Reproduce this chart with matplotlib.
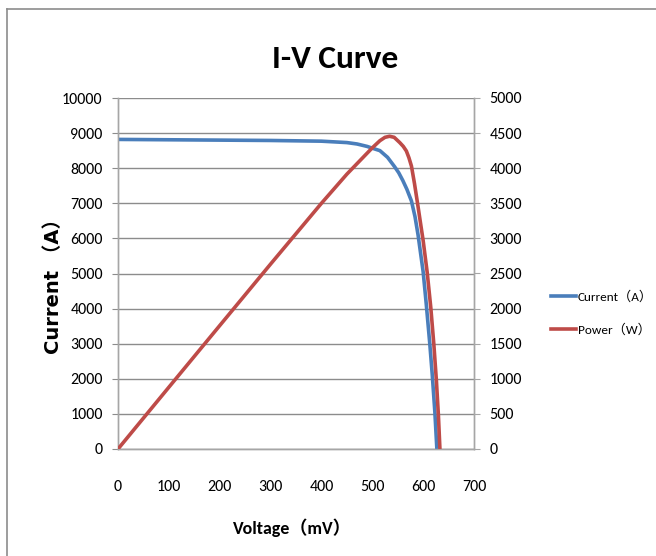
import matplotlib
matplotlib.use("Agg")
import matplotlib.pyplot as plt
from matplotlib.lines import Line2D

# ---- data ----
voltage_i = [0, 100, 200, 300, 400, 450, 470, 490, 500, 515, 530, 544, 552,
             560, 568, 577, 584, 590, 600, 606, 613, 618, 623, 627]
current = [8820, 8810, 8800, 8790, 8770, 8730, 8690, 8620, 8570, 8500, 8310,
           8040, 7870, 7650, 7400, 7066, 6620, 6100, 5051, 4150, 3011, 2100,
           1063, 0]

voltage_p = [0, 100, 200, 300, 400, 450, 480, 500, 515, 525, 534, 543, 554,
             561, 567, 572, 577, 583, 589, 595, 600, 608, 615, 621, 626, 630,
             633]
power = [0, 880, 1758, 2634, 3500, 3915, 4140, 4290, 4392, 4440, 4455, 4440,
         4365, 4310, 4245, 4150, 4030, 3780, 3500, 3210, 2970, 2514, 2017,
         1494, 980, 480, 0]

x_ticks = [0, 100, 200, 300, 400, 500, 600, 700]
left_ticks = list(range(0, 10001, 1000))
right_ticks = list(range(0, 5001, 500))

BLUE = "#4a7ebb"
RED = "#be4b48"
GRID = "#8c8c8c"
CAL = ["Carlito", "Noto Sans CJK SC", "DejaVu Sans"]

fig = plt.figure(figsize=(6.56, 5.56), dpi=100)
ax = fig.add_axes([118/656, 1-449/556, (474-118)/656, (449-98)/556])
ax2 = ax.twinx()

ax.plot(voltage_i, current, color=BLUE, lw=2.6, solid_joinstyle="round",
        solid_capstyle="butt", zorder=3)
ax2.plot(voltage_p, power, color=RED, lw=2.6, solid_joinstyle="round",
         solid_capstyle="butt", zorder=3)

ax.set_xlim(0, 700)
ax.set_ylim(0, 10000)
ax2.set_ylim(0, 5000)
ax.set_xticks(x_ticks)
ax.set_yticks(left_ticks)
ax2.set_yticks(right_ticks)

ax.grid(axis="y", color=GRID, lw=1.0)
ax.set_axisbelow(True)
ax.spines["top"].set_visible(False)
ax2.spines["top"].set_visible(False)
for a in (ax, ax2):
    for s in ["left", "right", "bottom"]:
        a.spines[s].set_color("#a6a6a6")
        a.spines[s].set_linewidth(1.0)

ax.tick_params(axis="x", length=0, pad=22, labelsize=11.5)
ax.tick_params(axis="y", length=4, color=GRID, pad=7, labelsize=11.5)
ax2.tick_params(axis="y", length=4, color="#a6a6a6", pad=7, labelsize=11.5)
for lab in ax.get_xticklabels() + ax.get_yticklabels() + ax2.get_yticklabels():
    lab.set_family(CAL)

fig.text(335/656, 1-68/556, "I-V Curve", family=CAL, fontsize=24,
         fontweight="bold", ha="center", va="baseline")

ax.set_xlabel("Voltage（mV）", family=CAL, fontsize=13, fontweight="bold")
ax.xaxis.set_label_coords((292-118)/356, -(528-449)/351)
ax.xaxis.label.set_va("center")

ax.set_ylabel("Current （A）", family=["DejaVu Sans", "Noto Sans CJK SC"],
              fontsize=14, fontweight="bold")
ylab = ax.yaxis.label
ylab.set_rotation_mode("default")
ylab.set_ha("center")
ylab.set_va("center")
ax.yaxis.set_label_coords((54-118)/356, (449-282)/351)

handles = [Line2D([], [], color=BLUE, lw=2.6), Line2D([], [], color=RED, lw=2.6)]
leg = fig.legend(handles, ["Current（A）", "Power（W）"],
                 loc="center left", bbox_to_anchor=(551/656, 1-313/556),
                 frameon=False, handlelength=1.9, handletextpad=0.15,
                 labelspacing=1.5, borderaxespad=0, borderpad=0,
                 prop={"family": CAL, "size": 9.5})

# outer border lines (top and left)
fig.add_artist(Line2D([7/656, 1], [1-9/556, 1-9/556], color="#8c8c8c", lw=1.2,
                      transform=fig.transFigure))
fig.add_artist(Line2D([7/656, 7/656], [0, 1-9/556], color="#8c8c8c", lw=1.2,
                      transform=fig.transFigure))

fig.savefig("out.png", dpi=100)
